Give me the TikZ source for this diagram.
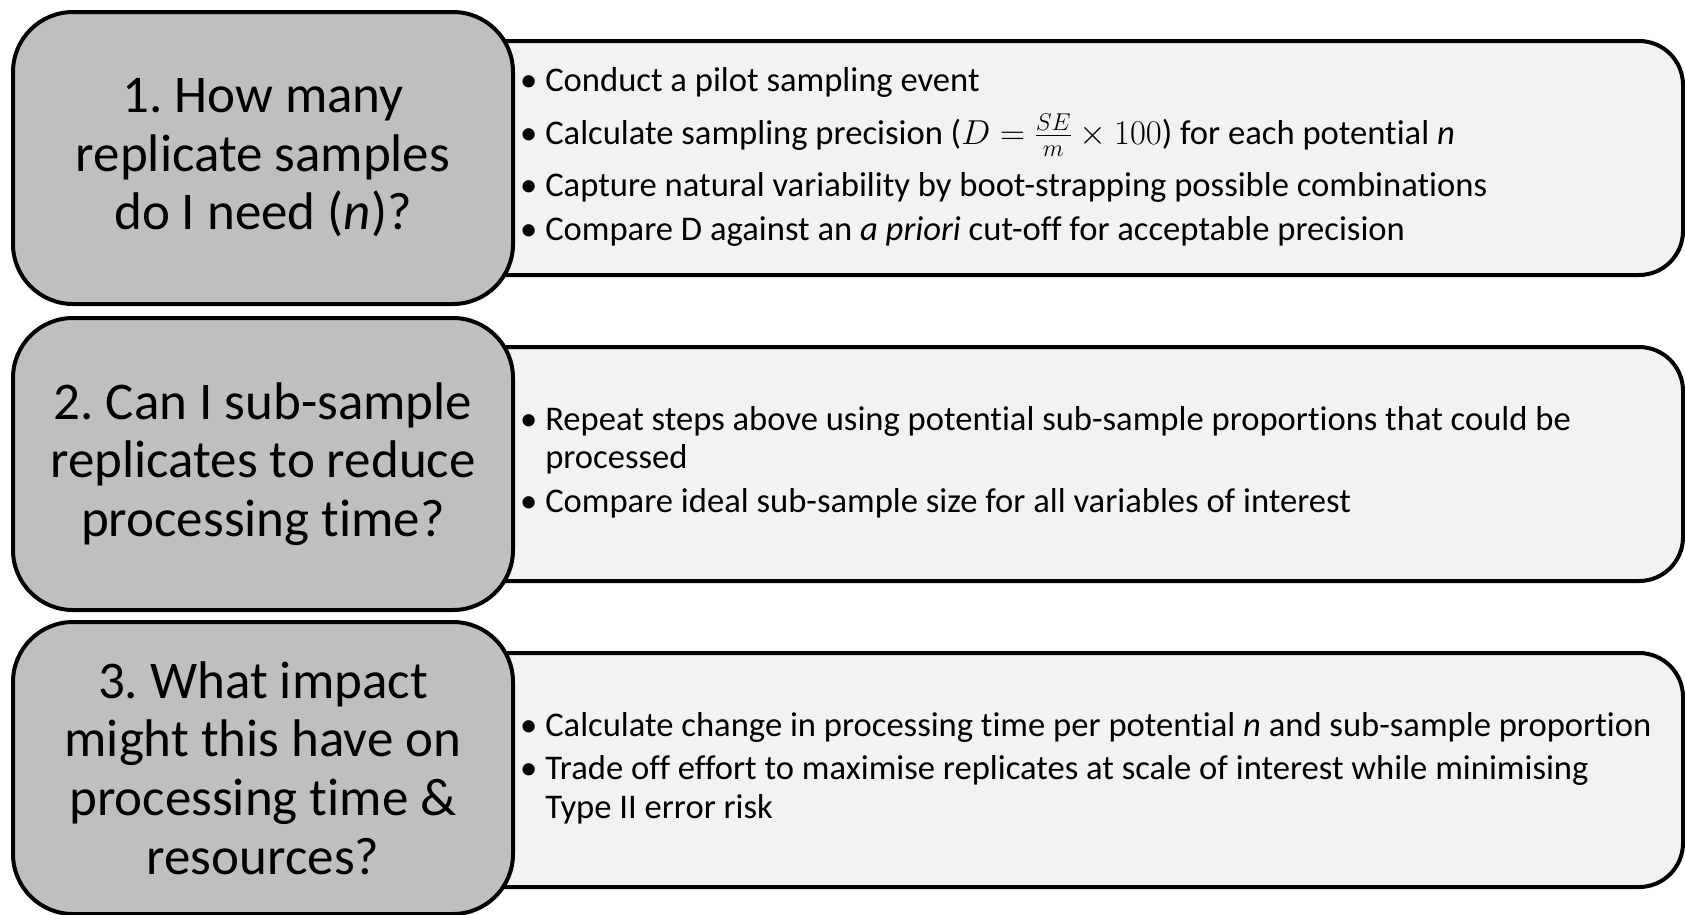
\RequirePackage{fix-cm}
\documentclass[tikz,border=0pt]{standalone}
\usepackage{fontspec}
\setmainfont{Carlito}[Ligatures=NoCommon]
\definecolor{qgray}{HTML}{BFBFBF}
\definecolor{alight}{HTML}{F2F2F2}
\newlength\bw
\newcommand\bl{\makebox[\bw][l]{•}}
\newcommand\ind{\hspace*{\bw}}
\frenchspacing
\begin{document}
\begin{tikzpicture}[x=1pt,y=-1pt,
  qbox/.style={draw=black,line width=4pt,fill=qgray,rounded corners=60pt,
    minimum width=500pt,minimum height=292pt,anchor=north west,align=center,
    font=\fontsize{53}{58.6}\selectfont\frenchspacing,inner sep=0pt},
  abox/.style={draw=black,line width=4pt,fill=alight,rounded corners=44pt,
    minimum width=1241pt,minimum height=234pt,anchor=north west,inner sep=0pt},
  bullets/.style={align=left,anchor=west,inner sep=0pt,
    font=\fontsize{34.6}{38.7}\selectfont\frenchspacing\settowidth\bw{• }}]
\useasboundingbox (0,0) rectangle (1685,914);
\fill[white] (0,0) rectangle (1685,914);
% answer boxes
\node[abox] (a1) at (440,39) {};
\node[abox] (a2) at (440,345) {};
\node[abox] (a3) at (440,651) {};
% question boxes
\node[qbox] (q1) at (11,10) {1. How many\\replicate samples\\do I need (\textit{n})?};
\node[qbox] (q2) at (11,316) {2. Can I sub-sample\\replicates to reduce\\processing time?};
\node[qbox] (q3) at (11,620) {3. What impact\\might this have on\\processing time \&\\resources?};
% answer texts
\node[bullets] (t1) at (520,157) {\bl Conduct a pilot sampling event\\[14pt]
\bl Calculate sampling precision (\(D=\frac{SE}{m}\times 100\)) for each potential \textit{n}\\[14pt]
\bl Capture natural variability by boot-strapping possible combinations\\[5pt]
\bl Compare D against an \textit{a priori} cut-off for acceptable precision};
\node[bullets] (t2) at (520,462) {\bl Repeat steps above using potential sub-sample proportions that could be\\
\ind processed\\[5pt]
\bl Compare ideal sub-sample size for all variables of interest};
\node[bullets] (t3) at (520,768) {\bl Calculate change in processing time per potential \textit{n} and sub-sample proportion\\[5pt]
\bl Trade off effort to maximise replicates at scale of interest while minimising\\
\ind Type II error risk};
\end{tikzpicture}
\end{document}
